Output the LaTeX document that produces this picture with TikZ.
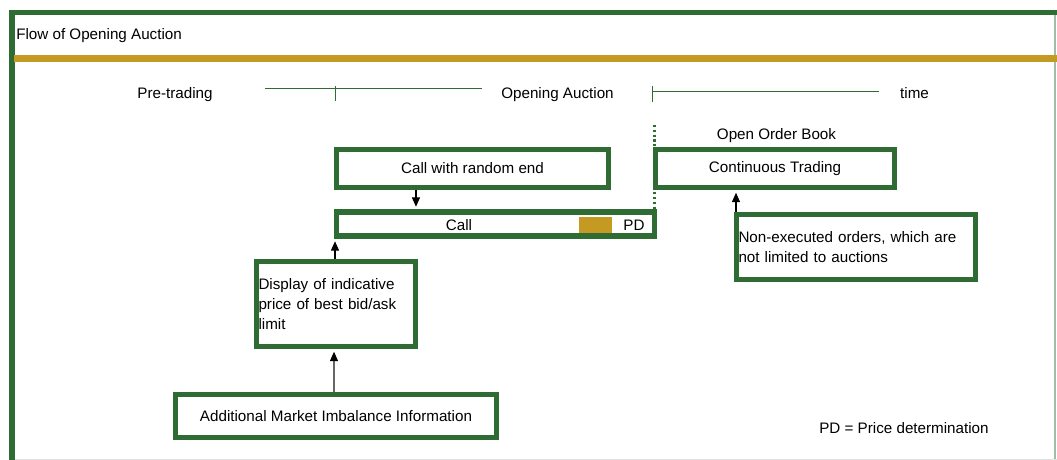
\documentclass[tikz,border=0pt]{standalone}
\usepackage{fontspec}
\setmainfont{Liberation Sans}
\usetikzlibrary{arrows.meta}
\usetikzlibrary{positioning}
\definecolor{frame}{RGB}{46,108,52}
\definecolor{gold}{RGB}{196,154,34}
\begin{document}
\begin{tikzpicture}[x=0.75pt,y=-0.75pt,font=\fontsize{11.4}{15}\selectfont]
\tikzstyle{box}=[draw=frame,line width=3.9pt,inner sep=0pt,fill=white]
\tikzstyle{arr}=[line width=0.8pt,-{Triangle[length=7pt,width=6pt,black]},shorten >=2pt]
\tikzstyle{axis}=[frame,line width=0.75pt]
\tikzstyle{lbl}=[anchor=base,inner sep=0pt]
\useasboundingbox (0,0) rectangle (1057,460);

\draw[frame!45,line width=0.9pt] (1055,15) -- (1055,460);
\draw[black!12,line width=0.75pt] (14,459) -- (1057,459);
\draw[frame,line width=3.9pt] (12,10) -- (12,460);
\draw[frame,line width=3.9pt] (10,12.5) -- (1057,12.5);
\draw[gold,line width=4.8pt] (14,58.5) -- (1057,58.5);
\node[anchor=base west,inner sep=0pt] (title) at (16,40) {Flow of Opening Auction};

\node[lbl] (pre) at (175,98.5) {Pre-trading};
\node[lbl] (open) at (557.5,98.5) {Opening Auction};
\node[lbl] (time) at (914.5,98.5) {time};
\draw[axis] (265,89) -- (482,89);
\draw[axis] (335,86) -- (335,101);
\draw[axis] (652.5,92) -- (879,92);
\draw[axis] (652.5,86) -- (652.5,102);

\node[lbl] (book) at (776.5,139.5) {Open Order Book};
\draw[frame,line width=1.6pt,dotted] (654.5,125) -- (654.5,210);

\node[box,minimum width=204pt,minimum height=28.5pt] (crw) at (472.5,168.5) {Call with random end};
\node[box,minimum width=179.25pt,minimum height=28.5pt] (cont) at (775,168.5) {Continuous Trading};
\node[box,minimum width=238.5pt,minimum height=18pt] (call) at (495.5,224) {};
\fill[gold] (579,217) rectangle (612,233);
\node (calltxt) at (459,225) {Call};
\node (pd) at (634,225) {PD};
\node[box,minimum height=48.75pt,inner xsep=1.5pt,text width=176.25pt,align=left] (nonex) at (856,247)
  {Non-executed orders, which are\\not limited to auctions};
\node[box,minimum height=63.75pt,inner xsep=1.5pt,text width=116.25pt,align=left] (disp) at (336,304)
  {Display of indicative\\price of best bid/ask\\limit};
\node[box,minimum width=240.75pt,minimum height=32.25pt] (addl) at (336,416) {Additional Market Imbalance Information};
\node[anchor=west,inner sep=0pt] (legend) at (819,428) {PD = Price determination};

\coordinate (a1) at ([xshift=-42.4pt]crw.south);
\coordinate (a2) at ([xshift=-0.75pt]disp.north);
\coordinate (a3) at ([xshift=-1.5pt]addl.north);
\coordinate (a4) at ([xshift=-90pt]nonex.north);
\draw[arr] (a1) -- (a1 |- call.north);
\draw[arr] (a2) -- (a2 |- call.south);
\draw[arr,draw=black!60] (a3) -- (a3 |- disp.south);
\draw[arr] (a4) -- (a4 |- cont.south);
\end{tikzpicture}
\end{document}
